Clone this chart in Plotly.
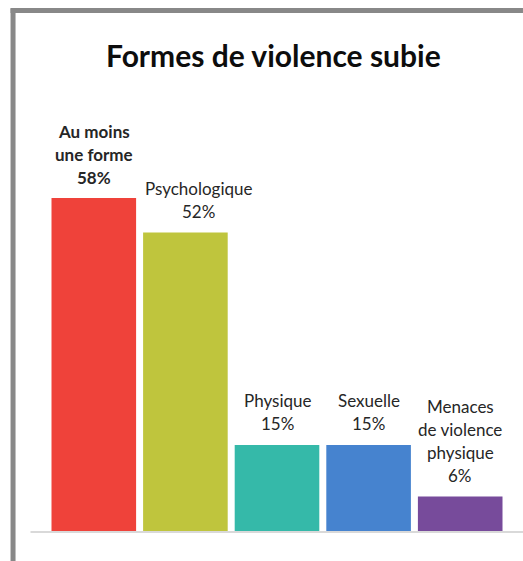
import plotly.graph_objects as go

categories = ["Au moins une forme", "Psychologique", "Physique", "Sexuelle", "Menaces de violence physique"]
label_lines = [["Au moins", "une forme"], ["Psychologique"], ["Physique"], ["Sexuelle"], ["Menaces", "de violence", "physique"]]
values = [58, 52, 15, 15, 6]
colors = ["#EF423A", "#BFC53D", "#35B9A9", "#4683CF", "#774B9B"]
title = "Formes de violence subie"

W, H = 523, 561
L, R, T, B = 47.5, 506, 198, 531
label_xshift = [0, 13, 0, 0, 0]

fig = go.Figure()
fig.add_trace(go.Bar(x=categories, y=values, marker=dict(color=colors, line=dict(width=0)),
                     hoverinfo="skip"))

FONT = "Lato, Calibri, sans-serif"
annotations = []
for i, (cat, lines, v) in enumerate(zip(categories, label_lines, values)):
    all_lines = lines + [f"{v}%"]
    n = len(all_lines)
    for k, line in enumerate(all_lines):
        txt = f"<b>{line}</b>" if i == 0 else line
        annotations.append(dict(x=cat, y=v, xref="x", yref="y", text=txt, showarrow=False,
                                yanchor="middle", xanchor="center",
                                yshift=21 + 23 * (n - 1 - k), xshift=label_xshift[i],
                                font=dict(family=FONT, size=17, color="#262626")))

pw, ph = R - L, B - T
def px(x): return (x - L) / pw
def py(y): return (B - y) / ph

annotations.append(dict(x=px(273.5), y=py(55), xref="paper", yref="paper", text=f"<b>{title}</b>",
                        showarrow=False, xanchor="center", yanchor="middle",
                        font=dict(family=FONT, size=30, color="#0D0D0D")))

shapes = [
    dict(type="line", xref="paper", yref="paper", x0=px(30), x1=px(523), y0=py(532), y1=py(532),
         line=dict(color="#D9D9D9", width=2), layer="below"),
    dict(type="line", xref="paper", yref="paper", x0=px(12.5), x1=px(12.5), y0=py(8.5), y1=py(561),
         line=dict(color="#888888", width=5)),
    dict(type="line", xref="paper", yref="paper", x0=px(10), x1=px(523), y0=py(10.5), y1=py(10.5),
         line=dict(color="#888888", width=5)),
]

fig.update_layout(
    width=W, height=H,
    margin=dict(l=L, r=W - R, t=T, b=H - B, pad=0),
    paper_bgcolor="white", plot_bgcolor="white",
    showlegend=False, bargap=7 / 91.7,
    xaxis=dict(range=[-0.5, 4.5], showticklabels=False, showgrid=False, zeroline=False,
               showline=False, ticks="", fixedrange=True),
    yaxis=dict(range=[0, 58], showticklabels=False, showgrid=False, zeroline=False,
               showline=False, ticks="", fixedrange=True),
    annotations=annotations, shapes=shapes,
)

fig.write_html("out.html", config={"displayModeBar": False},
               post_script="document.body.style.margin='0';document.body.style.overflow='hidden';")
